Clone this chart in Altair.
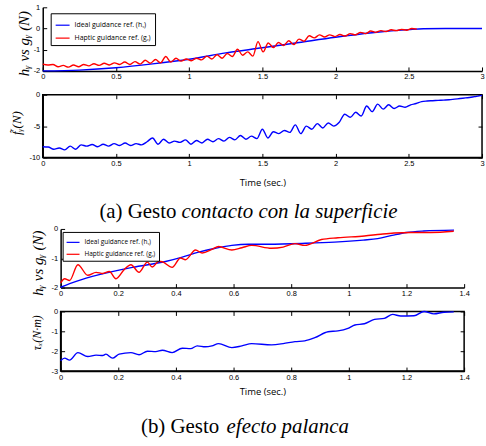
import altair as alt
import pandas as pd

IDEAL = "Ideal guidance ref. (hᵧ)"
HAPTIC = "Haptic guidance ref. (gᵧ)"
BLUE = "#0000ff"
RED = "#ff0000"

# ---------- (a) top: ideal vs haptic guidance ----------
a_ideal_t = [0, 0.25, 0.5, 0.75, 1.0, 1.25, 1.5, 1.75, 2.0, 2.25, 2.5, 2.6, 2.75, 3.0]
a_ideal_v = [-2.0, -1.96, -1.85, -1.67, -1.45, -1.15, -0.91, -0.66, -0.41, -0.20, -0.05, -0.01, 0.0, 0.0]
a_haptic_step = 0.035
a_haptic_v = [-1.68, -1.72, -1.70, -1.80, -1.74, -1.82, -1.72, -1.80, -1.70, -1.76,
              -1.66, -1.74, -1.64, -1.72, -1.62, -1.70, -1.58, -1.70, -1.56, -1.68,
              -1.50, -1.64, -1.46, -1.62, -1.32, -1.58, -1.40, -1.54, -1.44, -1.52,
              -1.40, -1.48, -1.30, -1.44, -1.24, -1.40, -1.18, -1.32, -0.98, -1.26,
              -1.10, -1.30, -0.62, -1.10, -0.68, -0.90, -0.66, -0.80, -0.58, -0.76,
              -0.50, -0.60, -0.34, -0.44, -0.30, -0.40, -0.30, -0.38, -0.28, -0.36,
              -0.24, -0.30, -0.18, -0.24, -0.12, -0.18, -0.10, -0.14, -0.06, -0.10,
              -0.04, -0.08, 0.00, -0.03]
a_haptic_t = [round(i * a_haptic_step, 4) for i in range(len(a_haptic_v))]

# ---------- (a) bottom: force ----------
a_force_step = 0.0375
a_force_v = [-8.30, -8.35, -8.70, -8.50, -8.80, -8.20, -8.70, -8.00, -8.20, -7.95,
             -8.30, -7.90, -8.20, -7.80, -8.10, -7.70, -8.10, -7.80, -8.00, -7.50,
             -6.90, -7.90, -7.10, -7.70, -7.40, -7.60, -7.20, -7.90, -7.30, -7.70,
             -7.10, -7.50, -7.00, -7.40, -6.80, -7.20, -6.50, -7.10, -6.60, -7.00,
             -5.50, -6.90, -5.90, -6.20, -5.70, -6.00, -4.80, -6.20, -5.00, -5.50,
             -4.60, -5.30, -4.50, -5.00, -4.40, -3.10, -3.60, -2.80, -3.40, -1.80,
             -2.70, -1.50, -2.30, -1.60, -2.20, -1.80, -2.00, -1.60, -1.40, -1.10,
             -1.00, -0.95, -0.90, -0.85, -0.80, -0.70, -0.60, -0.50, -0.40, -0.25,
             -0.10]
a_force_t = [round(i * a_force_step, 4) for i in range(len(a_force_v))]

# ---------- (b) top: ideal vs haptic guidance ----------
b_ideal_t = [0.0, 0.054, 0.134, 0.249, 0.364, 0.422, 0.479, 0.537, 0.594, 0.652,
             0.72, 0.85, 0.95, 1.05, 1.10, 1.15, 1.20, 1.26, 1.365]
b_ideal_v = [-1.99, -1.79, -1.56, -1.31, -1.11, -0.96, -0.79, -0.66, -0.56, -0.52,
             -0.52, -0.49, -0.45, -0.38, -0.33, -0.22, -0.12, -0.07, -0.04]
b_haptic_t = [0.000, 0.014, 0.031, 0.060, 0.094, 0.123, 0.146, 0.169, 0.192, 0.221,
              0.244, 0.272, 0.301, 0.318, 0.341, 0.353, 0.387, 0.416, 0.433, 0.468,
              0.491, 0.525, 0.548, 0.594, 0.629, 0.663, 0.732, 0.772, 0.813, 0.847,
              0.905, 0.962, 1.054, 1.111, 1.157, 1.214, 1.284, 1.364]
b_haptic_v = [-1.84, -1.70, -1.76, -1.22, -1.58, -1.48, -1.52, -1.45, -1.70, -1.38,
              -1.22, -1.48, -1.13, -1.30, -1.10, -1.12, -1.31, -0.99, -1.05, -0.72,
              -0.82, -0.70, -0.60, -0.72, -0.64, -0.56, -0.66, -0.62, -0.50, -0.56,
              -0.36, -0.30, -0.24, -0.18, -0.14, -0.12, -0.12, -0.08]

# ---------- (b) bottom: torque ----------
b_torque_t = [0.000, 0.014, 0.031, 0.060, 0.094, 0.123, 0.146, 0.157, 0.180, 0.203,
              0.244, 0.272, 0.301, 0.330, 0.353, 0.387, 0.422, 0.451, 0.474, 0.502,
              0.525, 0.548, 0.594, 0.629, 0.663, 0.732, 0.772, 0.813, 0.847, 0.882,
              0.928, 0.962, 0.997, 1.021, 1.054, 1.089, 1.123, 1.152, 1.180, 1.226,
              1.261, 1.295, 1.330, 1.364]
b_torque_v = [-2.48, -2.35, -2.45, -2.07, -2.27, -2.20, -2.22, -2.15, -2.35, -2.15,
              -2.07, -2.18, -2.00, -2.02, -1.95, -2.07, -1.85, -1.87, -1.73, -1.78,
              -1.73, -1.62, -1.82, -1.73, -1.62, -1.68, -1.62, -1.52, -1.48, -1.32,
              -1.02, -0.98, -0.85, -0.68, -0.62, -0.40, -0.35, -0.15, -0.23, -0.22,
              0.00, -0.12, -0.04, -0.02]

a_x_ticks = [0, 0.5, 1, 1.5, 2, 2.5, 3]
a_top_y_ticks = [-2, -1, 0, 1]
a_bot_y_ticks = [-10, -5, 0]
b_x_ticks = [0, 0.2, 0.4, 0.6, 0.8, 1.0, 1.2, 1.4]
b_top_y_ticks = [-2, -1, 0]
b_bot_y_ticks = [-3, -2, -1, 0]

cap_a_plain = "(a) Gesto"
cap_a_italic = "contacto con la superficie"
cap_b_plain = "(b) Gesto"
cap_b_italic = "efecto palanca"

LBL = "replace(format(datum.value, '~g'), '\u2212', '-')"
TICK = 4
AXFONT = "Liberation Sans"
LW = 1.4


def scl(dom):
    return alt.Scale(domain=dom, nice=False, zero=False)


def tick_layer(xdom, ydom, xt, yt, xo, yo):
    d = pd.DataFrame({"t": [xdom[0]], "v": [ydom[0]]})
    common = dict(offset=-TICK, labels=False, domain=False, ticks=True, tickSize=TICK,
                  tickColor="black", tickWidth=1, grid=False, title=None)
    return alt.Chart(d).mark_point(opacity=0).encode(
        x=alt.X("t:Q", scale=scl(xdom), axis=alt.Axis(orient=xo, values=xt, **common)),
        y=alt.Y("v:Q", scale=scl(ydom), axis=alt.Axis(orient=yo, values=yt, **common)),
    )


def main_layer(df, xdom, ydom, xt, yt, w, ytitle, ytsize, ytx, yty, xtitle=None, xty=0, legend=None):
    xkw = dict(orient="bottom", values=xt, labelExpr=LBL, domain=True, domainColor="black",
               domainWidth=1.5, ticks=False, labelFont=AXFONT, labelFontSize=7.5,
               labelColor="black", labelPadding=2, labelFlush=False, labelOverlap=False, grid=False)
    if xtitle:
        xkw.update(title=xtitle, titleX=w / 2, titleY=xty, titleAlign="center",
                   titleBaseline="middle", titleFont="Open Sans", titleFontSize=9.5,
                   titleFontWeight="normal", titleColor="black")
    else:
        xkw.update(title=None)
    yaxis = alt.Axis(orient="left", values=yt, labelExpr=LBL, domain=True, domainColor="black",
                     domainWidth=1.5, ticks=False, labelFont=AXFONT, labelFontSize=7.5,
                     labelColor="black", labelPadding=3, labelFlush=False, labelOverlap=False,
                     grid=False, title=ytitle, titleX=ytx, titleY=yty, titleAngle=270,
                     titleAlign="center", titleBaseline="middle", titleFont="Liberation Serif",
                     titleFontStyle="italic", titleFontWeight="normal", titleFontSize=ytsize,
                     titleColor="black")
    enc = dict(
        x=alt.X("t:Q", scale=scl(xdom), axis=alt.Axis(**xkw)),
        y=alt.Y("v:Q", scale=scl(ydom), axis=yaxis),
        order=alt.Order("k:Q"),
    )
    if legend is not None:
        enc["color"] = alt.Color("series:N", scale=alt.Scale(domain=[IDEAL, HAPTIC], range=[BLUE, RED]),
                                 legend=legend)
        enc["detail"] = alt.Detail("series:N")
        mark = alt.Chart(df).mark_line(strokeWidth=LW, interpolate="monotone")
    else:
        mark = alt.Chart(df).mark_line(strokeWidth=LW, interpolate="monotone", color=BLUE)
    return mark.encode(**enc)


def two_series(ti, vi, th, vh):
    rows = [{"t": t, "v": v, "series": IDEAL, "k": i} for i, (t, v) in enumerate(zip(ti, vi))]
    rows += [{"t": t, "v": v, "series": HAPTIC, "k": i} for i, (t, v) in enumerate(zip(th, vh))]
    return pd.DataFrame(rows)


def one_series(t, v):
    return pd.DataFrame({"t": t, "v": v, "k": list(range(len(t)))})


def caption(plain, italic, xr, xl, y, size):
    d1 = pd.DataFrame({"s": [plain]})
    d2 = pd.DataFrame({"s": [italic]})
    c1 = alt.Chart(d1).mark_text(font="Liberation Serif", fontSize=size, align="right",
                                 baseline="alphabetic", color="black").encode(
        text="s:N", x=alt.value(xr), y=alt.value(y))
    c2 = alt.Chart(d2).mark_text(font="Liberation Serif", fontSize=size, fontStyle="italic",
                                 align="left", baseline="alphabetic", color="black").encode(
        text="s:N", x=alt.value(xl), y=alt.value(y))
    return c1, c2


def make_legend(lx, ly, pad, sym, fs, rp):
    return alt.Legend(orient="none", legendX=lx, legendY=ly, title=None, fillColor="white",
                      strokeColor="black", padding=pad, symbolType="stroke", symbolSize=sym,
                      symbolStrokeWidth=1.2, labelFont="Open Sans", labelFontSize=fs,
                      labelColor="black", rowPadding=rp, labelOffset=4, labelLimit=300)


WA, WB = 442, 406
H1, H2, H3, H4 = 64, 63, 59, 60

# Panel 1
p1 = alt.layer(
    main_layer(two_series(a_ideal_t, a_ideal_v, a_haptic_t, a_haptic_v), [0, 3], [-2, 1],
               a_x_ticks, a_top_y_ticks, WA, "hᵧ vs gᵧ (N)", 15, -19, 36,
               legend=make_legend(8, 6, 4, 196, 7, 2)),
    tick_layer([0, 3], [-2, 1], a_x_ticks, a_top_y_ticks, "bottom", "left"),
).resolve_scale(x="independent", y="independent").properties(width=WA, height=H1)

# Panel 2
ca1, ca2 = caption(cap_a_plain, cap_a_italic, 134.5, 139.5, 124, 21)
p2 = alt.layer(
    main_layer(one_series(a_force_t, a_force_v), [0, 3], [-10, 0], a_x_ticks, a_bot_y_ticks, WA,
               "f̃ᵧ(N)", 13, -26, 28, xtitle="Time (sec.)", xty=25.5),
    tick_layer([0, 3], [-10, 0], a_x_ticks, a_bot_y_ticks, "bottom", "left"),
    tick_layer([0, 3], [-10, 0], a_x_ticks, a_bot_y_ticks, "top", "right"),
    ca1, ca2,
).resolve_scale(x="independent", y="independent").properties(
    width=WA, height=H2, view=alt.ViewBackground(stroke="black", strokeWidth=1.5))

spacer = alt.Chart(pd.DataFrame({"t": [0]})).mark_point(opacity=0).encode(
    x=alt.value(0), y=alt.value(0)).properties(width=WA, height=24)

# Panel 3
p3 = alt.layer(
    main_layer(two_series(b_ideal_t, b_ideal_v, b_haptic_t, b_haptic_v), [0, 1.4], [-2, 0],
               b_x_ticks, b_top_y_ticks, WB, "hᵧ vs gᵧ (N)", 15, -23, 34,
               legend=make_legend(2, 3, 3, 169, 6.5, 1)),
    tick_layer([0, 1.4], [-2, 0], b_x_ticks, b_top_y_ticks, "bottom", "left"),
).resolve_scale(x="independent", y="independent").properties(width=WB, height=H3)

# Panel 4
cb1, cb2 = caption(cap_b_plain, cap_b_italic, 159.5, 167, 122.5, 21)
p4 = alt.layer(
    main_layer(one_series(b_torque_t, b_torque_v), [0, 1.4], [-3, 0], b_x_ticks, b_bot_y_ticks, WB,
               "τₓ(N·m)", 12, -24, 21, xtitle="Time (sec.)", xty=20.5),
    tick_layer([0, 1.4], [-3, 0], b_x_ticks, b_bot_y_ticks, "bottom", "left"),
    tick_layer([0, 1.4], [-3, 0], b_x_ticks, b_bot_y_ticks, "top", "right"),
    cb1, cb2,
).resolve_scale(x="independent", y="independent").properties(
    width=WB, height=H4, view=alt.ViewBackground(stroke="black", strokeWidth=1.5))

chart = alt.vconcat(p1, p2, spacer, p3, p4, spacing=24, bounds="flush", center=True).resolve_scale(
    color="independent").properties(
    padding={"left": 10, "top": 2, "right": 0, "bottom": 0}, background="white"
).configure_view(stroke=None)

chart.save("out.html", embed_options={"renderer": "svg", "actions": False})
